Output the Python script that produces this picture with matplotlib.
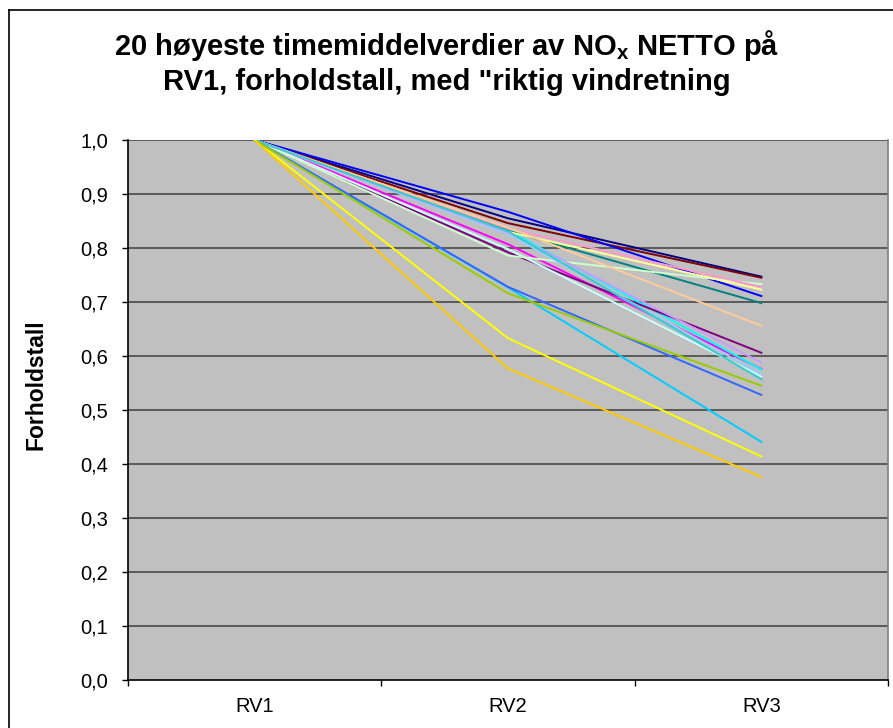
import matplotlib
matplotlib.use("Agg")
import matplotlib.pyplot as plt
from matplotlib.lines import Line2D

plt.rcParams['font.family'] = ['Liberation Sans', 'DejaVu Sans']

categories = ["RV1", "RV2", "RV3"]
series_colors = ["#000080", "#FF00FF", "#FFFF00", "#00FFFF", "#800080",
                 "#800000", "#008080", "#0000FF", "#00CCFF", "#CCFFFF",
                 "#CCFFCC", "#FFFF99", "#99CCFF", "#FF99CC", "#CC99FF",
                 "#FFCC99", "#3366FF", "#33CCCC", "#99CC00", "#FFCC00"]
rv1_values = [1.0] * 20
rv2_values = [0.855, 0.807, 0.633, 0.833, 0.792,
              0.846, 0.832, 0.867, 0.727, 0.798,
              0.786, 0.830, 0.826, 0.836, 0.829,
              0.838, 0.728, 0.831, 0.716, 0.577]
rv3_values = [0.747, 0.576, 0.414, 0.575, 0.606,
              0.745, 0.698, 0.711, 0.441, 0.562,
              0.733, 0.723, 0.566, 0.728, 0.588,
              0.656, 0.528, 0.557, 0.545, 0.376]
yticks = [0.0, 0.1, 0.2, 0.3, 0.4, 0.5, 0.6, 0.7, 0.8, 0.9, 1.0]
ytick_labels = ["0,0", "0,1", "0,2", "0,3", "0,4", "0,5", "0,6", "0,7", "0,8", "0,9", "1,0"]

fig = plt.figure(figsize=(8.93, 7.28), dpi=100)
ax = fig.add_axes([128/893, 1 - 680/728, (888 - 128)/893, (680 - 140)/728])
ax.set_facecolor("#C0C0C0")

x = list(range(len(categories)))
for c, a, b, d in zip(series_colors, rv1_values, rv2_values, rv3_values):
    ax.plot(x, [a, b, d], color=c, lw=1.4, solid_joinstyle='miter')

ax.set_xlim(-0.5, 2.5)
ax.set_ylim(0, 1.0)
ax.set_yticks(yticks)
ax.set_yticklabels(ytick_labels, fontsize=14.5)
for yv in yticks[1:]:
    ax.axhline(yv, color="#5a5a5a", lw=1.4, zorder=0.5)

ax.set_xticks(x)
ax.set_xticklabels(categories, fontsize=14.5)
ax.tick_params(axis='x', which='major', length=0, pad=12)
ax.set_xticks([-0.5, 0.5, 1.5, 2.5], minor=True)
ax.tick_params(axis='x', which='minor', length=4.5, width=1, direction='out')
ax.tick_params(axis='y', length=4.5, width=1, direction='out', pad=10)

ax.spines['top'].set_visible(False)
ax.spines['right'].set_color("#808080")
ax.spines['left'].set_color("black")
ax.spines['bottom'].set_color("black")
for s in ax.spines.values():
    s.set_linewidth(1.2)

ax.set_ylabel("Forholdstall", fontsize=16.5, fontweight='bold')
ax.yaxis.set_label_coords((48 - 128) / 760, (680 - 385) / 540)

fig.text(0.5, 1 - 62/728,
         "20 høyeste timemiddelverdier av NO$_\\mathregular{x}$ NETTO på\nRV1, forholdstall, med \"riktig vindretning",
         ha='center', va='center', fontsize=21, fontweight='bold', linespacing=1.2)

# chart area border
fig.add_artist(Line2D([9/893, 9/893], [0, 1 - 10/728], transform=fig.transFigure, color='black', lw=1.2))
fig.add_artist(Line2D([9/893, 1], [1 - 10/728, 1 - 10/728], transform=fig.transFigure, color='black', lw=1.2))

fig.savefig("out.png", dpi=100)
